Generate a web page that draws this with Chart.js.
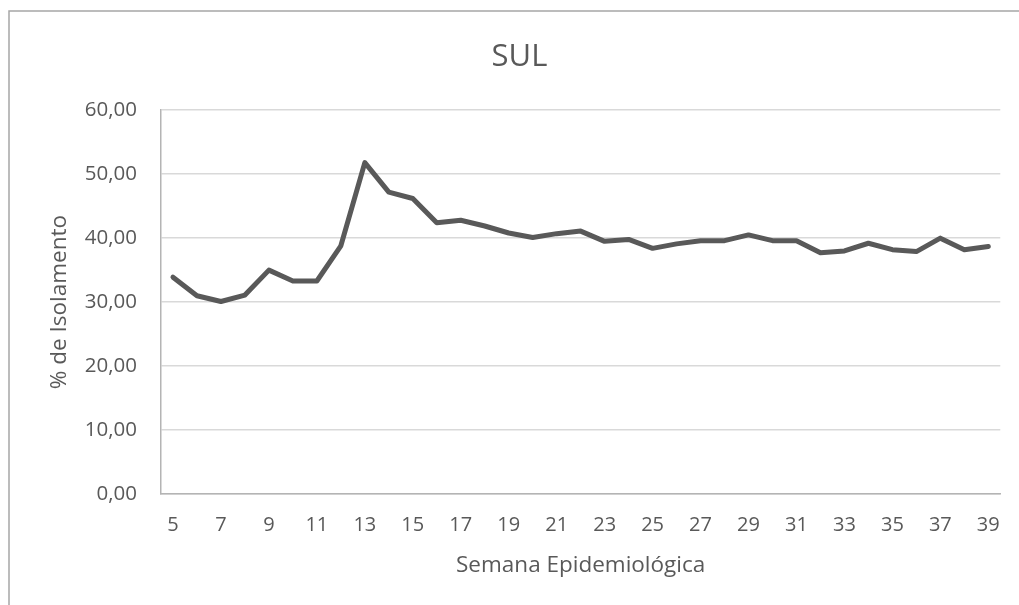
<!DOCTYPE html>
<html>
<head>
<meta charset="utf-8">
<script src="https://cdn.jsdelivr.net/npm/chart.js@4/dist/chart.umd.min.js"></script>
<style>
    html, body { margin: 0; padding: 0; background: #fff; }
    #wrap { width: 1019px; height: 605px; }
</style>
</head>
<body>
<div id="wrap"><canvas id="chart" width="1019" height="605"></canvas></div>
<script>
// Semana epidemiológica 5..39
const weeks = ["5", "6", "7", "8", "9", "10", "11", "12", "13", "14", "15", "16", "17", "18", "19", "20", "21", "22",
    "23", "24", "25", "26", "27", "28", "29", "30", "31", "32", "33", "34", "35", "36", "37", "38", "39"];

// % de isolamento - região Sul
const isolamento = [33.9, 31.0, 30.1, 31.1, 35.0, 33.3, 33.3, 38.8, 51.8, 47.2, 46.2, 42.4, 42.8, 41.9, 40.8, 40.1, 40.7, 41.1,
    39.5, 39.8, 38.4, 39.1, 39.6, 39.6, 40.5, 39.6, 39.6, 37.7, 38.0, 39.2, 38.2, 37.9, 40.0, 38.2, 38.7];

const yTicks = [0, 10, 20, 30, 40, 50, 60];

const textColor = "#595959";
const fontFamily = "'Open Sans', sans-serif";

// outer frame of the chart object
const framePlugin = {
    id: "frame",
    beforeDraw(chart) {
        const ctx = chart.ctx;
        ctx.save();
        ctx.fillStyle = "#fff";
        ctx.fillRect(0, 0, chart.width, chart.height);
        ctx.strokeStyle = "#a6a6a6";
        ctx.lineWidth = 1.5;
        ctx.strokeRect(9, 11, chart.width + 20, chart.height + 20);
        ctx.restore();
    },
};

new Chart(document.getElementById("chart"), {
    type: "line",
    data: {
        labels: weeks,
        datasets: [{
            label: "SUL",
            data: isolamento,
            borderColor: "#595959",
            borderWidth: 5,
            borderJoinStyle: "round",
            borderCapStyle: "round",
            pointRadius: 0,
            tension: 0,
            fill: false,
        }],
    },
    options: {
        responsive: false,
        animation: false,
        layout: { padding: { left: 38, right: 18, top: 0, bottom: 0 } },
        scales: {
            x: {
                offset: true,
                grid: { display: false, drawTicks: false },
                border: { display: true, color: "#b4b4b4", width: 1.5 },
                ticks: {
                    autoSkip: false,
                    maxRotation: 0,
                    padding: 19,
                    color: textColor,
                    font: { family: fontFamily, size: 20 },
                    callback: function (value, index) {
                        return index % 2 === 0 ? this.getLabelForValue(value) : "";
                    },
                },
                title: {
                    display: true,
                    text: "Semana Epidemiológica",
                    color: textColor,
                    font: { family: fontFamily, size: 22.5 },
                    padding: { top: 0, bottom: 26 },
                },
                afterFit(scale) { scale.height = 111; },
            },
            y: {
                min: 0,
                max: 60,
                afterBuildTicks(scale) { scale.ticks = yTicks.map(v => ({ value: v })); },
                grid: { color: "#d9d9d9", lineWidth: 1.5, drawTicks: false },
                border: { display: true, color: "#b4b4b4", width: 1.5 },
                ticks: {
                    padding: 24,
                    color: textColor,
                    font: { family: fontFamily, size: 20.5 },
                    callback: v => v.toFixed(2).replace(".", ","),
                },
                title: {
                    display: true,
                    text: "% de Isolamento",
                    color: textColor,
                    font: { family: fontFamily, size: 22.5 },
                    padding: { top: 8, bottom: 0 },
                },
                afterFit(scale) { scale.width = 123; },
            },
        },
        plugins: {
            legend: { display: false },
            tooltip: { enabled: false },
            title: {
                display: true,
                text: "SUL",
                color: textColor,
                font: { family: fontFamily, size: 31, weight: "normal" },
                padding: { top: 39, bottom: 34 },
            },
        },
    },
    plugins: [framePlugin],
});
</script>
</body>
</html>
